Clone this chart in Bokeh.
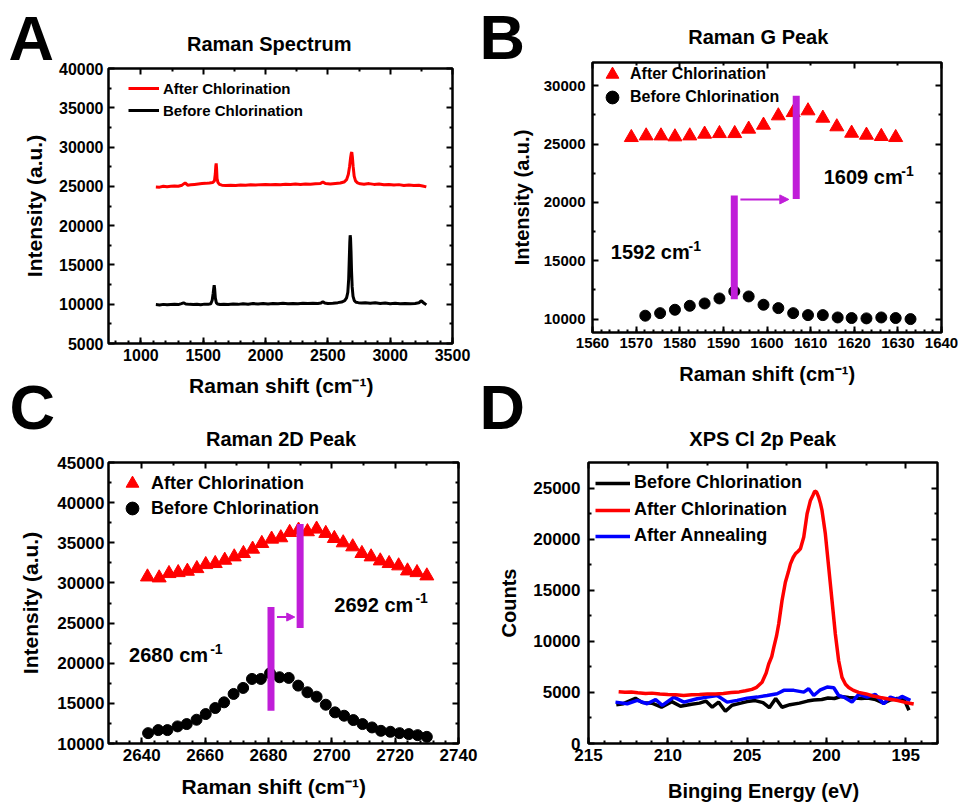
from bokeh.plotting import figure
from bokeh.layouts import column, row
from bokeh.models import (Range1d, FixedTicker, LinearAxis, Label, Legend, LegendItem,
                          Arrow, NormalHead, CustomJSTickFormatter)
from bokeh.embed import file_html
from bokeh.resources import INLINE

FONT = "Liberation Sans"
PURPLE = "#C01ED8"
RED = "#FF0000"
BLUE = "#0000FF"
BLACK = "#000000"

# ---------------- Panel A: Raman spectrum ----------------
a_before_x = [1120, 1150, 1180, 1210, 1240, 1270, 1300, 1325, 1342, 1360, 1390, 1420, 1450, 1480, 1510,
              1540, 1560, 1572, 1580, 1585, 1588, 1592, 1597, 1605, 1615, 1635, 1665, 1700, 1740, 1780,
              1820, 1860, 1900, 1940, 1980, 2020, 2060, 2100, 2140, 2180, 2220, 2260, 2300, 2340, 2380,
              2420, 2445, 2460, 2475, 2500, 2540, 2580, 2610, 2635, 2650, 2660, 2667, 2672, 2676, 2679,
              2682, 2686, 2690, 2695, 2702, 2712, 2725, 2745, 2770, 2800, 2840, 2880, 2920, 2960, 3000,
              3040, 3080, 3120, 3160, 3200, 3230, 3245, 3253, 3262, 3275, 3290]
a_before_y = [9950, 9900, 9980, 9920, 9960, 10000, 9950, 10080, 10180, 10020, 9980, 9950, 10000, 9940, 10010,
              9980, 10050, 10500, 11400, 12100, 12420, 11900, 10800, 10200, 10020, 9960, 10000, 9960, 10020, 9980,
              10050, 9990, 10080, 10040, 10090, 10020, 10100, 10050, 10110, 10060, 10100, 10070, 10120, 10080, 10130,
              10090, 10150, 10330, 10150, 10100, 10130, 10200, 10280, 10450, 10800, 11500, 13200, 15800, 17900, 18780,
              18400, 16600, 14200, 12200, 11000, 10450, 10250, 10200, 10150, 10200, 10120, 10180, 10100, 10150, 10060,
              10120, 10050, 10100, 10060, 10100, 10180, 10380, 10420, 10250, 10100, 9920]
a_after_x = [1120, 1150, 1180, 1210, 1240, 1270, 1300, 1330, 1355, 1375, 1400, 1430, 1460, 1490, 1520,
             1550, 1575, 1590, 1597, 1601, 1604, 1607, 1611, 1618, 1630, 1650, 1680, 1720, 1760, 1800,
             1840, 1880, 1920, 1960, 2000, 2040, 2080, 2120, 2160, 2200, 2240, 2280, 2320, 2360, 2400,
             2440, 2460, 2480, 2520, 2560, 2600, 2630, 2650, 2664, 2674, 2682, 2688, 2692, 2697, 2703,
             2711, 2722, 2738, 2760, 2790, 2830, 2870, 2910, 2950, 2990, 3030, 3070, 3110, 3150, 3190,
             3230, 3260, 3290]
a_after_y = [24930, 24900, 25020, 24950, 25000, 25050, 25020, 25150, 25450, 25150, 25200, 25250, 25300, 25350, 25380,
             25420, 25480, 25700, 26600, 27600, 27920, 27300, 26000, 25500, 25250, 25150, 25120, 25150, 25100, 25180,
             25150, 25200, 25160, 25220, 25240, 25200, 25250, 25210, 25280, 25240, 25290, 25250, 25310, 25270, 25320,
             25350, 25560, 25350, 25300, 25360, 25420, 25550, 25850, 26500, 27500, 28600, 29200, 29350, 28700, 27500,
             26300, 25700, 25450, 25320, 25280, 25350, 25250, 25300, 25200, 25250, 25160, 25220, 25120, 25180, 25100,
             25140, 25050, 24930]
a_xticks = [1000, 1500, 2000, 2500, 3000, 3500]
a_xminor = [1250, 1750, 2250, 2750, 3250]
a_yticks = [5000, 10000, 15000, 20000, 25000, 30000, 35000, 40000]
a_yminor = [7500, 12500, 17500, 22500, 27500, 32500, 37500]

# ---------------- Panel B: Raman G peak ----------------
b_after_x = [1568.9, 1572.3, 1575.7, 1578.9, 1582.3, 1585.7, 1589.1, 1592.6, 1595.8, 1599.2,
             1602.6, 1606.0, 1609.4, 1612.8, 1616.0, 1619.4, 1622.8, 1626.2, 1629.5]
b_after_y = [25570, 25710, 25710, 25630, 25710, 25860, 25910, 25910, 26290, 26630,
             27430, 27710, 27860, 27230, 26490, 25940, 25770, 25660, 25570]
b_before_x = [1572.1, 1575.5, 1578.9, 1582.3, 1585.7, 1589.1, 1592.5, 1595.8, 1599.2, 1602.6,
              1606.0, 1609.4, 1612.8, 1616.2, 1619.4, 1622.8, 1626.2, 1629.5, 1632.9]
b_before_y = [10290, 10510, 10800, 11140, 11340, 11770, 12370, 11940, 11230, 10940,
              10510, 10340, 10340, 10140, 10090, 10060, 10140, 10090, 10000]
b_bar_x = [1592.5, 1606.7]
b_bar_y0 = [11700, 20300]
b_bar_y1 = [20600, 29150]
b_arrow = (1593.9, 1605.0, 20260)
b_peak_labels = ["1592 cm", "1609 cm"]
b_label_x = [1564.2, 1613.0]
b_label_y = [15140, 21570]
b_sup_x = [1582.0, 1630.8]
b_sup_y = [15860, 22290]
b_xticks = [1560, 1580, 1600, 1620, 1640]
b_xminor = [1570, 1590, 1610, 1630]
b_yticks = [10000, 15000, 20000, 25000, 30000]
b_yminor = [12500, 17500, 22500, 27500]

# ---------------- Panel C: Raman 2D peak ----------------
c_after_x = [2641.8, 2645.5, 2648.6, 2651.5, 2654.4, 2657.4, 2660.2, 2663.2, 2666.2, 2669.2, 2672.1,
             2675.0, 2677.9, 2681.0, 2683.9, 2686.7, 2689.5, 2692.3, 2695.2, 2698.1, 2700.8, 2703.6,
             2706.6, 2709.5, 2712.4, 2715.3, 2718.1, 2721.1, 2723.9, 2726.9, 2730.0]
c_after_y = [30750, 30630, 31170, 31290, 31460, 31790, 32290, 32420, 32830, 33250, 33670,
             34210, 34920, 35460, 35630, 36290, 36580, 36380, 36710, 36170, 35540, 35000,
             34500, 33670, 33250, 32750, 32420, 32130, 31500, 31290, 30880]
c_before_x = [2642.0, 2645.2, 2648.1, 2651.3, 2654.2, 2657.3, 2660.2, 2663.2, 2666.0, 2669.0, 2672.0,
              2674.8, 2677.6, 2680.5, 2683.5, 2686.4, 2689.4, 2692.3, 2695.2, 2698.1, 2701.0, 2703.9,
              2706.8, 2709.7, 2712.7, 2715.5, 2718.5, 2721.4, 2724.3, 2727.1, 2730.0]
c_before_y = [11290, 11670, 11670, 12130, 12420, 12960, 13670, 14420, 15130, 16170, 16920,
              18040, 18040, 18750, 18250, 18170, 17210, 16380, 15830, 14830, 13880, 13460,
              12920, 12420, 12000, 11580, 11460, 11290, 11170, 11040, 10830]
c_bar_x = [2680.8, 2690.0]
c_bar_y0 = [14080, 24380]
c_bar_y1 = [27000, 37330]
c_arrow = (2682.7, 2688.3, 25750)
c_peak_labels = ["2680 cm", "2692 cm"]
c_label_x = [2636.0, 2700.8]
c_label_y = [20130, 26380]
c_sup_x = [2661.6, 2726.4]
c_sup_y = [21170, 27540]
c_xticks = [2640, 2660, 2680, 2700, 2720, 2740]
c_xminor = [2650, 2670, 2690, 2710, 2730]
c_yticks = [10000, 15000, 20000, 25000, 30000, 35000, 40000, 45000]
c_yminor = [12500, 17500, 22500, 27500, 32500, 37500, 42500]

# ---------------- Panel D: XPS Cl 2p ----------------
d_before_x = [213.25, 212.8, 212.04, 211.6, 211.0, 210.4, 209.75, 209.2, 208.5, 208.0,
              207.6, 207.2, 206.8, 206.37, 205.95, 205.4, 205.0, 204.5, 204.0, 203.6,
              203.2, 202.8, 202.3, 201.7, 201.2, 200.8, 200.3, 199.9, 199.5, 199.1,
              198.6, 198.2, 197.8, 197.4, 196.9, 196.4, 196.0, 195.55, 195.1, 194.8]
d_before_y = [3800, 3900, 4420, 4000, 3950, 3550, 4100, 3650, 3850, 3950,
              4150, 3550, 4050, 3150, 3750, 3950, 4100, 4200, 4000, 3500,
              4400, 3550, 3800, 3950, 4150, 4250, 4300, 4450, 4400, 4600,
              4500, 4450, 4400, 4450, 4300, 3950, 4250, 4400, 4300, 3250]
d_after_x = [213.1, 212.7, 212.3, 211.9, 211.4, 211.0, 210.5, 210.0, 209.5, 209.0,
             208.5, 208.0, 207.5, 207.0, 206.5, 206.0, 205.5, 205.1, 204.7, 204.4,
             204.06, 203.8, 203.64, 203.45, 203.32, 203.15, 203.01, 202.8, 202.59, 202.4,
             202.27, 202.1, 201.96, 201.8, 201.64, 201.43, 201.22, 201.01, 200.85, 200.74,
             200.62, 200.49, 200.38, 200.28, 200.07, 199.86, 199.65, 199.44, 199.23, 199.02,
             198.8, 198.6, 198.3, 197.97, 197.5, 197.13, 196.6, 196.08, 195.5, 195.03, 194.5]
d_after_y = [5070, 5020, 5040, 4960, 4900, 4930, 4850, 4800, 4780, 4700,
             4760, 4800, 4850, 4840, 4900, 4980, 5050, 5160, 5300, 5500,
             6000, 6900, 7780, 8500, 9400, 10500, 11700, 13990, 15780, 16800,
             17580, 18200, 18560, 18800, 19050, 20200, 22480, 23790, 24300, 24700,
             24600, 24100, 23500, 22810, 20520, 17260, 13990, 10720, 8100, 6470,
             5800, 5490, 5200, 5000, 4850, 4670, 4500, 4350, 4200, 4020, 3860]
d_anneal_x = [213.30, 212.56, 211.93, 211.30, 210.77, 210.35, 209.62, 208.99, 208.15, 207.52,
              206.89, 206.26, 205.63, 205.00, 204.37, 203.74, 203.11, 202.69, 202.06, 201.43,
              201.12, 200.80, 200.38, 199.96, 199.54, 199.23, 198.91, 198.39, 197.97, 197.44,
              196.92, 196.39, 195.97, 195.55, 195.24, 194.71]
d_anneal_y = [4050, 3890, 4220, 3890, 4310, 3730, 4540, 4050, 4380, 4540,
              4700, 4050, 4220, 4440, 4540, 4700, 4870, 5200, 5200, 5030,
              5360, 4700, 5260, 5520, 5460, 4700, 4540, 4050, 4800, 4540,
              4800, 3890, 4540, 4310, 4610, 4220]
d_xticks = [215, 210, 205, 200, 195]
d_xminor = [212.5, 207.5, 202.5, 197.5]
d_yticks = [0, 5000, 10000, 15000, 20000, 25000]
d_yminor = [2500, 7500, 12500, 17500, 22500]

XLABEL_RAMAN = "Raman shift (cm\u207b\u00b9)"
XLABEL_XPS = "Binging Energy (eV)"
YLABEL_RAMAN = "Intensity (a.u.)"
YLABEL_XPS = "Counts"

LEFT_W, RIGHT_W = 480, 478


def make_fig(width, height, xr, yr, borders, ylabel):
    left, right, top, bottom = borders
    p = figure(width=width, height=height, x_range=xr, y_range=yr,
               output_backend="svg", toolbar_location=None, title_location=None,
               min_border_left=left, min_border_right=right,
               min_border_top=top, min_border_bottom=bottom,
               y_axis_label=ylabel)
    p.grid.visible = False
    p.outline_line_color = BLACK
    p.outline_line_width = 2.5
    p.border_fill_color = "white"
    p.background_fill_color = "white"
    return p


def make_strip(width, height):
    h = figure(width=width, height=height, x_range=Range1d(0, 1), y_range=Range1d(0, 1),
               output_backend="svg", toolbar_location=None, title_location=None,
               x_axis_location=None, y_axis_location=None,
               min_border_left=0, min_border_right=0, min_border_top=0, min_border_bottom=0)
    h.grid.visible = False
    h.outline_line_color = None
    h.border_fill_color = "white"
    h.background_fill_color = "white"
    return h


def style_axes(p, xt, xm, yt, ym, tick_size, label_size, xs, ys, yls):
    top_ax = LinearAxis(ticker=FixedTicker(ticks=xt, minor_ticks=xm),
                        formatter=CustomJSTickFormatter(code="return ''"))
    right_ax = LinearAxis(ticker=FixedTicker(ticks=yt, minor_ticks=ym),
                          formatter=CustomJSTickFormatter(code="return ''"))
    p.add_layout(top_ax, "above")
    p.add_layout(right_ax, "right")
    p.xaxis[0].ticker = FixedTicker(ticks=xt, minor_ticks=xm)
    p.yaxis[0].ticker = FixedTicker(ticks=yt, minor_ticks=ym)
    for ax in list(p.xaxis) + list(p.yaxis):
        ax.axis_line_color = None
        ax.major_tick_in = 6
        ax.major_tick_out = 0
        ax.minor_tick_in = 3
        ax.minor_tick_out = 0
        ax.major_tick_line_width = 2
        ax.minor_tick_line_width = 2
        ax.major_tick_line_color = BLACK
        ax.minor_tick_line_color = BLACK
        ax.major_label_text_font = FONT
        ax.major_label_text_font_style = "bold"
        ax.major_label_text_font_size = tick_size
        ax.major_label_text_color = BLACK
        ax.axis_label_text_font = FONT
        ax.axis_label_text_font_style = "bold"
        ax.axis_label_text_font_size = label_size
        ax.axis_label_text_color = BLACK
    for ax in (top_ax, right_ax):
        ax.major_label_standoff = 0
        ax.major_label_text_font_size = "0px"
    p.xaxis[0].major_label_standoff = xs
    p.yaxis[0].major_label_standoff = ys
    p.yaxis[0].axis_label_standoff = yls


def add_text(p, text, x, y, size_px, align="left", units="screen"):
    # y is the wanted baseline; Bokeh centres the text on y, so lift it by half the cap height
    lift = round(0.358 * size_px)
    p.add_layout(Label(x=x, y=y, x_units=units, y_units=units, y_offset=lift, text=text,
                       text_font=FONT, text_font_style="bold", text_font_size=f"{size_px}px",
                       text_align=align, text_baseline="alphabetic", text_color=BLACK))


def add_legend(p, label, renderer, loc, size, glyph_w, glyph_h, standoff):
    p.add_layout(Legend(items=[LegendItem(label=label, renderers=[renderer])],
                        location=loc, orientation="vertical", padding=0, margin=0, spacing=0,
                        glyph_width=glyph_w, glyph_height=glyph_h, label_height=glyph_h,
                        label_standoff=standoff, label_text_font=FONT,
                        label_text_font_style="bold", label_text_font_size=size,
                        label_text_color=BLACK, border_line_alpha=0, background_fill_alpha=0))


# ================= left column =================
hA = make_strip(LEFT_W, 61)
add_text(hA, "A", 8, 1, 63)
add_text(hA, "Raman Spectrum", 268.7, 10.5, 20, align="center")

pA = make_fig(LEFT_W, 311, Range1d(740, 3500), Range1d(5000, 40000), (108, 28, 7, 29), YLABEL_RAMAN)
style_axes(pA, a_xticks, a_xminor, a_yticks, a_yminor, "16px", "21px", 8, 5, 10)
rA_after = pA.line(a_after_x, a_after_y, line_color=RED, line_width=3)
rA_before = pA.line(a_before_x, a_before_y, line_color=BLACK, line_width=3)
add_legend(pA, "After Chlorination", rA_after, (20, 245), "15px", 31, 20, 4)
add_legend(pA, "Before Chlorination", rA_before, (20, 223), "15px", 31, 20, 4)

hC = make_strip(LEFT_W, 80)
add_text(hC, XLABEL_RAMAN, 280.8, 58.7, 21, align="center")
add_text(hC, "C", 9, 23, 63)
add_text(hC, "Raman 2D Peak", 280.5, 6.3, 20, align="center")

pC = make_fig(LEFT_W, 323, Range1d(2629.5, 2740), Range1d(10000, 45000), (108, 22, 10, 32), YLABEL_RAMAN)
style_axes(pC, c_xticks, c_xminor, c_yticks, c_yminor, "17px", "21px", 9, 4, 12)
rC_after = pC.scatter(c_after_x, c_after_y, marker="triangle", size=14, fill_color=RED, line_color=RED)
rC_before = pC.scatter(c_before_x, c_before_y, marker="circle", size=11, fill_color=BLACK, line_color=BLACK)
pC.segment(x0=c_bar_x, y0=c_bar_y0, x1=c_bar_x, y1=c_bar_y1, line_color=PURPLE, line_width=7, line_cap="butt")
pC.add_layout(Arrow(end=NormalHead(size=8, fill_color=PURPLE, line_color=PURPLE),
                    x_start=c_arrow[0], y_start=c_arrow[2], x_end=c_arrow[1], y_end=c_arrow[2],
                    line_color=PURPLE, line_width=2))
for t, x, y in zip(c_peak_labels, c_label_x, c_label_y):
    add_text(pC, t, x, y, 20, units="data")
for x, y in zip(c_sup_x, c_sup_y):
    add_text(pC, "-1", x, y, 14, units="data")
add_legend(pC, "After Chlorination", rC_after, (8, 244), "18px", 32, 32, 3)
add_legend(pC, "Before Chlorination", rC_before, (8, 219), "18px", 32, 32, 3)

fC = make_strip(LEFT_W, 27)
add_text(fC, XLABEL_RAMAN, 273.3, 8, 21, align="center")

# ================= right column =================
hB = make_strip(RIGHT_W, 60)
add_text(hB, "B", -1, 0.5, 63)
add_text(hB, "Raman G Peak", 277.8, 17, 20, align="center")

pB = make_fig(RIGHT_W, 298, Range1d(1560, 1640), Range1d(8850, 32000), (112, 17, 2, 26), YLABEL_RAMAN)
style_axes(pB, b_xticks, b_xminor, b_yticks, b_yminor, "15px", "20px", 5, 7, 8)
rB_after = pB.scatter(b_after_x, b_after_y, marker="triangle", size=14, fill_color=RED, line_color=RED)
rB_before = pB.scatter(b_before_x, b_before_y, marker="circle", size=11, fill_color=BLACK, line_color=BLACK)
pB.segment(x0=b_bar_x, y0=b_bar_y0, x1=b_bar_x, y1=b_bar_y1, line_color=PURPLE, line_width=7, line_cap="butt")
pB.add_layout(Arrow(end=NormalHead(size=9, fill_color=PURPLE, line_color=PURPLE),
                    x_start=b_arrow[0], y_start=b_arrow[2], x_end=b_arrow[1], y_end=b_arrow[2],
                    line_color=PURPLE, line_width=2))
for t, x, y in zip(b_peak_labels, b_label_x, b_label_y):
    add_text(pB, t, x, y, 20, units="data")
for x, y in zip(b_sup_x, b_sup_y):
    add_text(pB, "-1", x, y, 14, units="data")
add_legend(pB, "After Chlorination", rB_after, (4, 242), "16px", 32, 32, 2)
add_legend(pB, "Before Chlorination", rB_before, (4, 219), "16px", 32, 32, 2)

hD = make_strip(RIGHT_W, 94)
add_text(hD, XLABEL_RAMAN, 286.7, 71.3, 20, align="center")
add_text(hD, "D", -1, 23, 63)
add_text(hD, "XPS Cl 2p Peak", 282.2, 6.3, 20, align="center")

pD = make_fig(RIGHT_W, 323, Range1d(215, 193), Range1d(0, 27500), (108, 21, 10, 32), YLABEL_XPS)
style_axes(pD, d_xticks, d_xminor, d_yticks, d_yminor, "17px", "20px", 8, 8, 10)
rD_before = pD.line(d_before_x, d_before_y, line_color=BLACK, line_width=3.5)
rD_anneal = pD.line(d_anneal_x, d_anneal_y, line_color=BLUE, line_width=3.5)
rD_after = pD.line(d_after_x, d_after_y, line_color=RED, line_width=3.5)
add_legend(pD, "Before Chlorination", rD_before, (7, 250), "18px", 35, 20, 4)
add_legend(pD, "After Chlorination", rD_after, (7, 223), "18px", 35, 20, 4)
add_legend(pD, "After Annealing", rD_anneal, (7, 197), "18px", 35, 20, 4)

fD = make_strip(RIGHT_W, 27)
add_text(fD, XLABEL_XPS, 283, 4.7, 20, align="center")

# each figure sits in its own row so that the layout does not align frames across panels
left_col = column(row(hA), row(pA), row(hC), row(pC), row(fC), spacing=0)
right_col = column(row(hB), row(pB), row(hD), row(pD), row(fD), spacing=0)
layout = row(left_col, right_col, spacing=0)

with open("out.html", "w") as f:
    f.write(file_html(layout, INLINE))
